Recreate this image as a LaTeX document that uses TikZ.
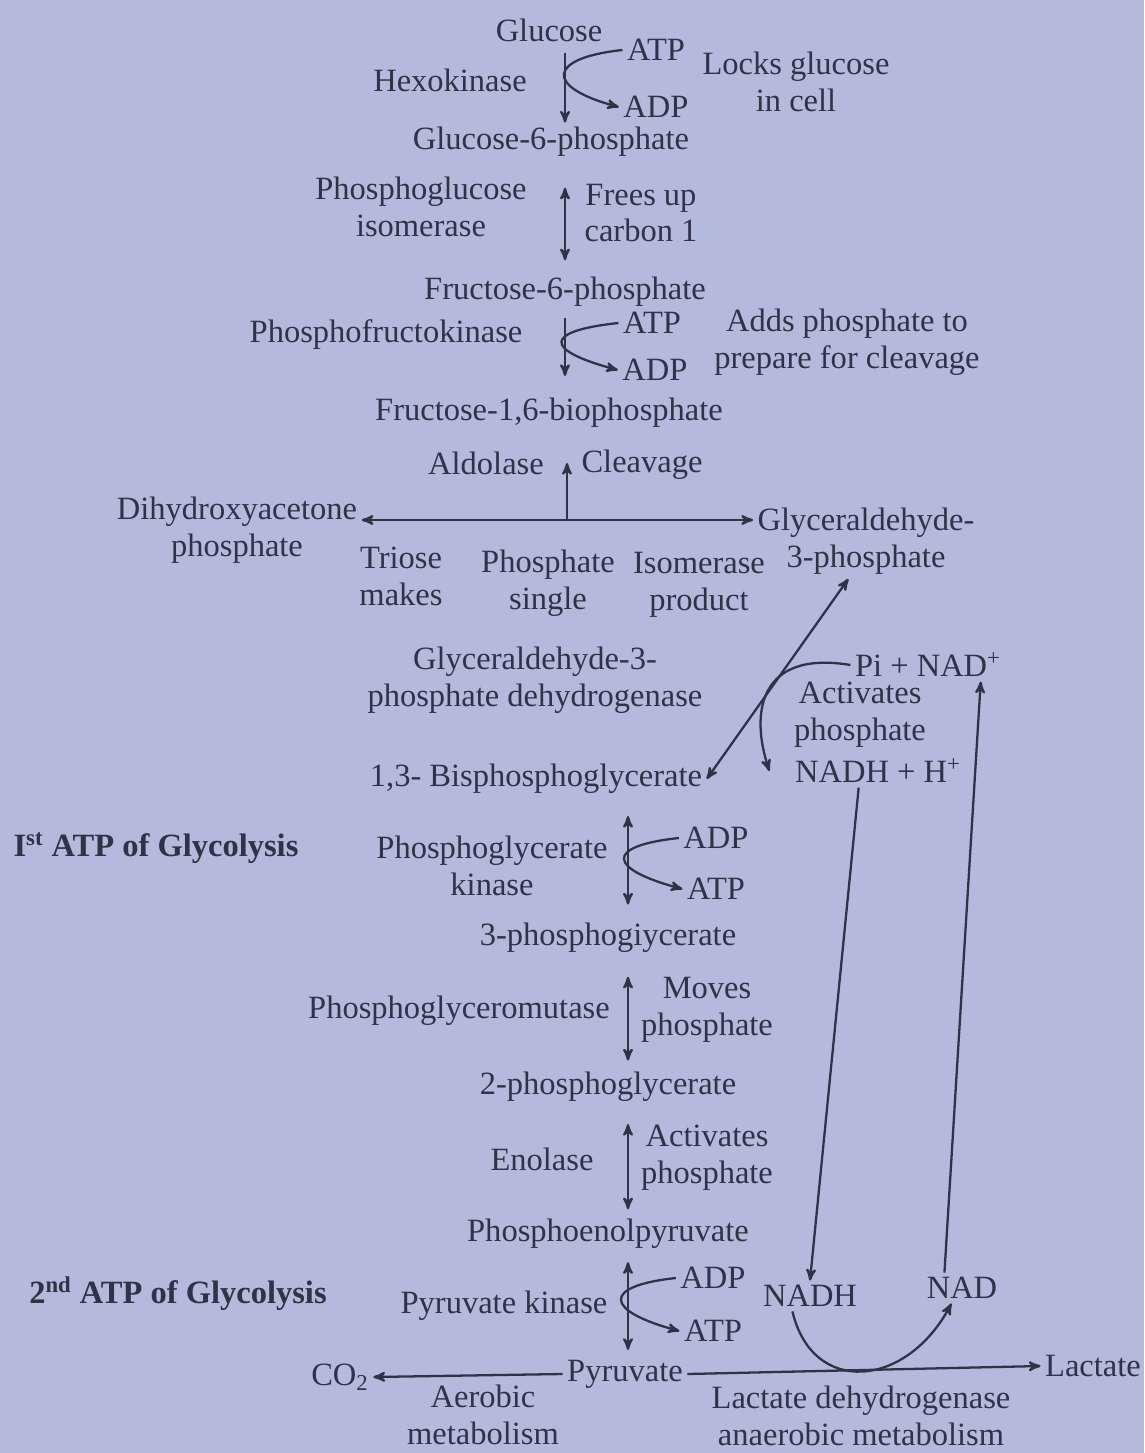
\documentclass[tikz,border=0pt]{standalone}
\usepackage{fontspec}
\setmainfont{Liberation Serif}
\usepackage{tikz}
\usepackage{xcolor}
\usetikzlibrary{arrows}
\definecolor{paper}{RGB}{180,186,220}
\definecolor{ink}{RGB}{48,50,72}
\tikzset{
    >=stealth' % Default arrow tip
}
\tikzstyle{chem}=[
    inner sep = 2pt,
    align = center,
    font = \fontsize{18.5}{21}\selectfont
]
\tikzstyle{stage}=[
    chem,
    font = \fontsize{18.5}{21}\selectfont\bfseries
]

\begin{document}
\begin{tikzpicture}[x=0.02cm, y=-0.02cm, color=ink, line width=1.3pt]
    \fill [paper] (0,0) rectangle (1144,1453);

    % axes of the two vertical runs
    \coordinate (axA) at (565,0);
    \coordinate (axB) at (628,0);

    % upper part
    \node [chem] (glc) at (549,30) {Glucose};
    \node [chem] (hexo) at (450,80) {Hexokinase};
    \node [chem] (atpA) at (656,50) {ATP};
    \node [chem] (adpA) at (656,107) {ADP};
    \node [chem] (lock) at (796,82) {Locks glucose\\in cell};
    \node [chem] (g6p) at (551,142) {Glucose-6-phosphate};
    \node [chem] (pgi) at (421,207) {Phosphoglucose\\isomerase};
    \node [chem] (free) at (641,213) {Frees up\\carbon 1};
    \node [chem] (f6p) at (565,292) {Fructose-6-phosphate};
    \node [chem] (pfk) at (386,335) {Phosphofructokinase};
    \node [chem] (atpB) at (652,323) {ATP};
    \node [chem] (adpB) at (655,370) {ADP};
    \node [chem] (adds) at (847,342) {Adds phosphate to\\prepare for cleavage};
    \node [chem] (f16) at (549,413) {Fructose-1,6-biophosphate};
    \node [chem] (ald) at (486,463) {Aldolase};
    \node [chem] (clv) at (642,465) {Cleavage};
    \node [chem] (dhap) at (237,530) {Dihydroxyacetone\\phosphate};
    \node [chem] (g3p) at (866,541) {Glyceraldehyde-\\3-phosphate};
    \node [chem] (tri) at (401,576) {Triose\\makes};
    \node [chem] (pho) at (548,583) {Phosphate\\single};
    \node [chem] (iso) at (699,585) {Isomerase\\product};
    \coordinate (split) at (567,520);

    % dehydrogenase step
    \node [chem] (gapdh) at (535,680) {Glyceraldehyde-3-\\phosphate dehydrogenase};
    \node [chem] (pinad) at (928,665) {Pi + NAD\textsuperscript{+}};
    \node [chem] (actA) at (860,715) {Activates\\phosphate};
    \node [chem] (nadhh) at (878,771) {NADH + H\textsuperscript{+}};
    \node [chem] (bpg) at (536,779) {1,3- Bisphosphoglycerate};

    % lower part
    \node [stage] (first) at (156,848) {I\textsuperscript{st} ATP of Glycolysis};
    \node [chem] (pgk) at (492,866) {Phosphoglycerate\\kinase};
    \node [chem] (adpC) at (716,838) {ADP};
    \node [chem] (atpC) at (716,889) {ATP};
    \node [chem] (pg3) at (608,938) {3-phosphogiycerate};
    \node [chem] (pgm) at (459,1011) {Phosphoglyceromutase};
    \node [chem] (moves) at (707,1010) {Moves\\phosphate};
    \node [chem] (pg2) at (608,1087) {2-phosphoglycerate};
    \node [chem] (eno) at (542,1159) {Enolase};
    \node [chem] (actB) at (707,1158) {Activates\\phosphate};
    \node [chem] (pep) at (608,1234) {Phosphoenolpyruvate};
    \node [stage] (second) at (178,1294) {2\textsuperscript{nd} ATP of Glycolysis};
    \node [chem] (pk) at (504,1306) {Pyruvate kinase};
    \node [chem] (adpD) at (713,1278) {ADP};
    \node [chem] (atpD) at (713,1331) {ATP};
    \node [chem] (nadh) at (810,1296) {NADH};
    \node [chem] (nad) at (962,1288) {NAD};
    \node [chem] (pyr) at (625,1374) {Pyruvate};
    \node [chem] (co2) at (340,1377) {CO\textsubscript{2}};
    \node [chem] (lac) at (1093,1366) {Lactate};
    \node [chem] (aer) at (483,1415) {Aerobic\\metabolism};
    \node [chem] (ldh) at (861,1416) {Lactate dehydrogenase\\anaerobic metabolism};

    % main chain
    \draw [->, shorten <=4pt] (glc.south -| axA) -- (g6p.north -| axA);
    \draw [<->, shorten <=15pt, shorten >=7pt] (g6p.south -| axA) -- (f6p.north -| axA);
    \draw [->, shorten <=4pt, shorten >=10pt] (f6p.south -| axA) -- (f16.north -| axA);
    \draw [->] (split) -- (split |- ald);
    \draw [<->] (dhap.east |- split) -- (g3p.west |- split);
    \draw [<->] (bpg.east) -- (g3p.245);
    \draw [<->, shorten <=10pt, shorten >=8pt] (bpg.south -| axB) -- (pg3.north -| axB);
    \draw [<->, shorten <=11pt, shorten >=4pt] (pg3.south -| axB) -- (pg2.north -| axB);
    \draw [<->, shorten <=10pt, shorten >=3pt] (pg2.south -| axB) -- (pep.north -| axB);
    \draw [<->, shorten <=5pt, shorten >=3pt] (pep.south -| axB) -- (pyr.north -| axB);
    \draw [->] (pyr.west) -- (co2.east);
    \draw [->] (pyr.east) -- (lac.west);

    % cofactors
    \draw [->] (atpA.west) .. controls +(-75,8) and +(-75,-20) .. (adpA.west);
    \draw [->] (atpB.west) .. controls +(-75,8) and +(-75,-20) .. (adpB.west);
    \draw [->] (adpC.west) .. controls +(-75,8) and +(-75,-20) .. (atpC.west);
    \draw [->] (adpD.west) .. controls +(-75,8) and +(-75,-20) .. (atpD.west);
    \draw [->] (pinad.west) .. controls +(-90,-15) and +(-20,-60) .. ([xshift=-12pt]nadhh.west);
    \draw [->] ([xshift=-11pt]nadhh.south) -- (nadh.north);
    \draw [->] ([xshift=-10pt]nad.north) -- ([xshift=30pt]pinad.south);
    \draw [->] ([xshift=-10pt]nadh.south) .. controls +(20,85) and +(-45,85) .. ([xshift=-6pt]nad.south);
\end{tikzpicture}
\end{document}
